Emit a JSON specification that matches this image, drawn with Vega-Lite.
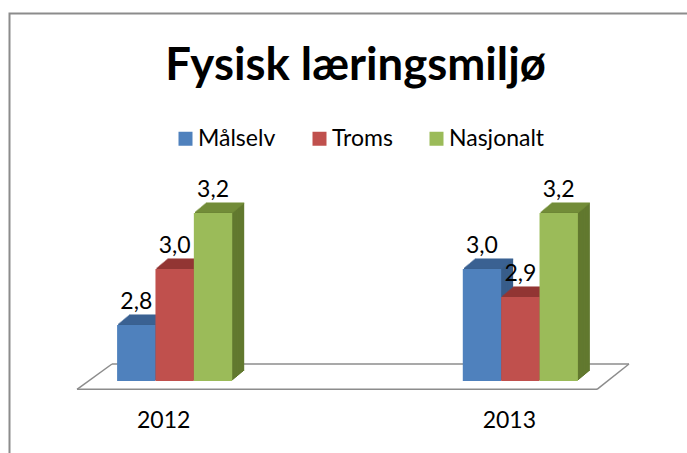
{
  "$schema": "https://vega.github.io/schema/vega-lite/v6.json",
  "width": 541,
  "height": 224,
  "autosize": "none",
  "padding": {"left": 77, "top": 157, "right": 69, "bottom": 72},
  "background": "white",
  "config": {
    "view": {"stroke": null},
    "font": "Lato",
    "locale": {"number": {"decimal": ",", "thousands": " ", "grouping": [3], "currency": ["", " kr"]}}
  },
  "title": {"text": "Fysisk læringsmiljø", "font": "Lato", "fontSize": 45.5, "fontWeight": "bold", "color": "black", "anchor": "middle", "dx": 8, "offset": -77},
  "layer": [
    {
      "data": {"values": [{}]},
      "mark": {"type": "rect", "fill": "transparent", "stroke": "#8c8c8c", "strokeWidth": 2},
      "encoding": {"x": {"value": -67.5}, "x2": {"value": 800}, "y": {"value": -143.5}, "y2": {"value": 600}}
    },
    {
      "data": {"values": [{}]},
      "mark": {"type": "rule", "color": "#8c8c8c", "strokeWidth": 1.5},
      "encoding": {"x": {"value": 0}, "x2": {"value": 520}, "y": {"value": 232.3}}
    },
    {
      "data": {"values": [{}]},
      "mark": {"type": "rule", "color": "#8c8c8c", "strokeWidth": 1.5},
      "encoding": {"x": {"value": 35}, "x2": {"value": 552}, "y": {"value": 207}}
    },
    {
      "data": {"values": [{}]},
      "mark": {"type": "rule", "color": "#8c8c8c", "strokeWidth": 1.5},
      "encoding": {"x": {"value": 0}, "x2": {"value": 35}, "y": {"value": 232.3}, "y2": {"value": 207}}
    },
    {
      "data": {"values": [{}]},
      "mark": {"type": "rule", "color": "#8c8c8c", "strokeWidth": 1.5},
      "encoding": {"x": {"value": 520}, "x2": {"value": 552}, "y": {"value": 232.3}, "y2": {"value": 207}}
    },
    {
      "data": {"values": [
        {"year": "2012", "series": "Målselv", "v": 2.8},
        {"year": "2012", "series": "Troms", "v": 3.0},
        {"year": "2012", "series": "Nasjonalt", "v": 3.2},
        {"year": "2013", "series": "Målselv", "v": 3.0},
        {"year": "2013", "series": "Troms", "v": 2.9},
        {"year": "2013", "series": "Nasjonalt", "v": 3.2}
      ]},
      "encoding": {
        "x": {"field": "year", "type": "nominal", "sort": null,
          "scale": {"paddingInner": 0.667, "paddingOuter": 0.116},
          "axis": {"title": null, "domain": false, "ticks": false, "labelAngle": 0, "labelFont": "Lato", "labelFontSize": 23, "labelColor": "black", "labelPadding": 28, "labelOffset": -11}},
        "xOffset": {"field": "series", "type": "nominal", "sort": ["Målselv", "Troms", "Nasjonalt"], "scale": {"paddingInner": 0, "paddingOuter": 0}},
        "y": {"field": "v", "type": "quantitative", "scale": {"domain": [2.6, 3.4], "zero": false, "nice": false}, "axis": null}
      },
      "layer": [
        {
          "encoding": {
            "y2": {"datum": 2.6},
            "fill": {"field": "series", "type": "nominal", "legend": null, "scale": {"domain": ["Målselv", "Troms", "Nasjonalt"], "range": ["#385d8a", "#8c3836", "#62792f"]}}
          },
          "layer": [
            {"mark": {"type": "bar", "yOffset": -10, "y2Offset": -10}, "encoding": {"xOffset": {"field": "series", "type": "nominal", "sort": ["Målselv", "Troms", "Nasjonalt"], "scale": {"range": [12, 127.1], "paddingInner": 0, "paddingOuter": 0}}}},
            {"mark": {"type": "bar", "yOffset": -9, "y2Offset": -9}, "encoding": {"xOffset": {"field": "series", "type": "nominal", "sort": ["Målselv", "Troms", "Nasjonalt"], "scale": {"range": [10.8, 125.9], "paddingInner": 0, "paddingOuter": 0}}}},
            {"mark": {"type": "bar", "yOffset": -8, "y2Offset": -8}, "encoding": {"xOffset": {"field": "series", "type": "nominal", "sort": ["Målselv", "Troms", "Nasjonalt"], "scale": {"range": [9.6, 124.7], "paddingInner": 0, "paddingOuter": 0}}}},
            {"mark": {"type": "bar", "yOffset": -7, "y2Offset": -7}, "encoding": {"xOffset": {"field": "series", "type": "nominal", "sort": ["Målselv", "Troms", "Nasjonalt"], "scale": {"range": [8.4, 123.5], "paddingInner": 0, "paddingOuter": 0}}}},
            {"mark": {"type": "bar", "yOffset": -6, "y2Offset": -6}, "encoding": {"xOffset": {"field": "series", "type": "nominal", "sort": ["Målselv", "Troms", "Nasjonalt"], "scale": {"range": [7.2, 122.3], "paddingInner": 0, "paddingOuter": 0}}}},
            {"mark": {"type": "bar", "yOffset": -5, "y2Offset": -5}, "encoding": {"xOffset": {"field": "series", "type": "nominal", "sort": ["Målselv", "Troms", "Nasjonalt"], "scale": {"range": [6, 121.1], "paddingInner": 0, "paddingOuter": 0}}}},
            {"mark": {"type": "bar", "yOffset": -4, "y2Offset": -4}, "encoding": {"xOffset": {"field": "series", "type": "nominal", "sort": ["Målselv", "Troms", "Nasjonalt"], "scale": {"range": [4.8, 119.9], "paddingInner": 0, "paddingOuter": 0}}}},
            {"mark": {"type": "bar", "yOffset": -3, "y2Offset": -3}, "encoding": {"xOffset": {"field": "series", "type": "nominal", "sort": ["Målselv", "Troms", "Nasjonalt"], "scale": {"range": [3.6, 118.7], "paddingInner": 0, "paddingOuter": 0}}}},
            {"mark": {"type": "bar", "yOffset": -2, "y2Offset": -2}, "encoding": {"xOffset": {"field": "series", "type": "nominal", "sort": ["Målselv", "Troms", "Nasjonalt"], "scale": {"range": [2.4, 117.5], "paddingInner": 0, "paddingOuter": 0}}}},
            {"mark": {"type": "bar", "yOffset": -1, "y2Offset": -1}, "encoding": {"xOffset": {"field": "series", "type": "nominal", "sort": ["Målselv", "Troms", "Nasjonalt"], "scale": {"range": [1.2, 116.3], "paddingInner": 0, "paddingOuter": 0}}}}
          ],
          "resolve": {"scale": {"xOffset": "independent"}}
        },
        {
          "encoding": {
            "fill": {"field": "series", "type": "nominal", "legend": null, "scale": {"domain": ["Målselv", "Troms", "Nasjonalt"], "range": ["#3c6494", "#943634", "#77933c"]}}
          },
          "layer": [
            {"mark": {"type": "tick", "orient": "horizontal", "size": 38.4, "thickness": 1.6, "yOffset": -10}, "encoding": {"xOffset": {"field": "series", "type": "nominal", "sort": ["Målselv", "Troms", "Nasjonalt"], "scale": {"range": [12, 127.1], "paddingInner": 0, "paddingOuter": 0}}}},
            {"mark": {"type": "tick", "orient": "horizontal", "size": 38.4, "thickness": 1.6, "yOffset": -9}, "encoding": {"xOffset": {"field": "series", "type": "nominal", "sort": ["Målselv", "Troms", "Nasjonalt"], "scale": {"range": [10.8, 125.9], "paddingInner": 0, "paddingOuter": 0}}}},
            {"mark": {"type": "tick", "orient": "horizontal", "size": 38.4, "thickness": 1.6, "yOffset": -8}, "encoding": {"xOffset": {"field": "series", "type": "nominal", "sort": ["Målselv", "Troms", "Nasjonalt"], "scale": {"range": [9.6, 124.7], "paddingInner": 0, "paddingOuter": 0}}}},
            {"mark": {"type": "tick", "orient": "horizontal", "size": 38.4, "thickness": 1.6, "yOffset": -7}, "encoding": {"xOffset": {"field": "series", "type": "nominal", "sort": ["Målselv", "Troms", "Nasjonalt"], "scale": {"range": [8.4, 123.5], "paddingInner": 0, "paddingOuter": 0}}}},
            {"mark": {"type": "tick", "orient": "horizontal", "size": 38.4, "thickness": 1.6, "yOffset": -6}, "encoding": {"xOffset": {"field": "series", "type": "nominal", "sort": ["Målselv", "Troms", "Nasjonalt"], "scale": {"range": [7.2, 122.3], "paddingInner": 0, "paddingOuter": 0}}}},
            {"mark": {"type": "tick", "orient": "horizontal", "size": 38.4, "thickness": 1.6, "yOffset": -5}, "encoding": {"xOffset": {"field": "series", "type": "nominal", "sort": ["Målselv", "Troms", "Nasjonalt"], "scale": {"range": [6, 121.1], "paddingInner": 0, "paddingOuter": 0}}}},
            {"mark": {"type": "tick", "orient": "horizontal", "size": 38.4, "thickness": 1.6, "yOffset": -4}, "encoding": {"xOffset": {"field": "series", "type": "nominal", "sort": ["Målselv", "Troms", "Nasjonalt"], "scale": {"range": [4.8, 119.9], "paddingInner": 0, "paddingOuter": 0}}}},
            {"mark": {"type": "tick", "orient": "horizontal", "size": 38.4, "thickness": 1.6, "yOffset": -3}, "encoding": {"xOffset": {"field": "series", "type": "nominal", "sort": ["Målselv", "Troms", "Nasjonalt"], "scale": {"range": [3.6, 118.7], "paddingInner": 0, "paddingOuter": 0}}}},
            {"mark": {"type": "tick", "orient": "horizontal", "size": 38.4, "thickness": 1.6, "yOffset": -2}, "encoding": {"xOffset": {"field": "series", "type": "nominal", "sort": ["Målselv", "Troms", "Nasjonalt"], "scale": {"range": [2.4, 117.5], "paddingInner": 0, "paddingOuter": 0}}}},
            {"mark": {"type": "tick", "orient": "horizontal", "size": 38.4, "thickness": 1.6, "yOffset": -1}, "encoding": {"xOffset": {"field": "series", "type": "nominal", "sort": ["Målselv", "Troms", "Nasjonalt"], "scale": {"range": [1.2, 116.3], "paddingInner": 0, "paddingOuter": 0}}}}
          ],
          "resolve": {"scale": {"xOffset": "independent"}}
        },
        {
          "mark": {"type": "bar"},
          "encoding": {
            "y2": {"datum": 2.6},
            "color": {"field": "series", "type": "nominal",
              "scale": {"domain": ["Målselv", "Troms", "Nasjonalt"], "range": ["#4f81bd", "#c0504d", "#9bbb59"]},
              "legend": {"orient": "none", "legendX": 97, "legendY": -30, "direction": "horizontal", "title": null, "symbolType": "square", "symbolSize": 196, "symbolStrokeWidth": 0, "labelFont": "Lato", "labelFontSize": 23, "labelColor": "black", "labelOffset": 1, "columnPadding": 32, "labelLimit": 0}}
          }
        },
        {
          "mark": {"type": "text", "font": "Lato", "fontSize": 23, "color": "black", "baseline": "alphabetic", "dy": -16},
          "encoding": {
            "xOffset": {"field": "series", "type": "nominal", "sort": ["Målselv", "Troms", "Nasjonalt"], "scale": {"type": "point", "padding": 0.5}},
            "text": {"field": "v", "type": "quantitative", "format": ".1f"}
          }
        }
      ],
      "resolve": {"scale": {"fill": "independent", "xOffset": "independent"}}
    }
  ]
}
